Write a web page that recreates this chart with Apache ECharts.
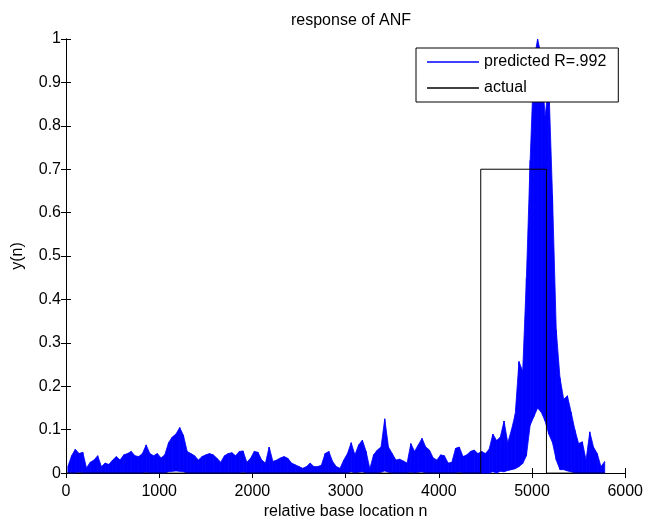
<!DOCTYPE html>
<html>
<head>
<meta charset="utf-8">
<script src="https://cdn.jsdelivr.net/npm/echarts@6/dist/echarts.min.js"></script>
<style>
html,body{margin:0;padding:0;background:#fff;}
#chart{width:646px;height:525px;}
</style>
</head>
<body>
<div id="chart"></div>
<script>
// ---- data ----
const titleText = 'response of ANF';
const xName = 'relative base location n';
const yName = 'y(n)';
const legendNames = ['predicted R=.992', 'actual'];
const xTicks = [0, 1000, 2000, 3000, 4000, 5000, 6000];
const yTicks = [0, 0.1, 0.2, 0.3, 0.4, 0.5, 0.6, 0.7, 0.8, 0.9, 1];

// predicted response: sampled every 40 positions from n = 20; lower and upper envelope of the dense trace
const sampleStart = 20;
const sampleStep = 40;
const predLo = [
  0, 0, 0, .002, 0, 0, 0, 0, 0, 0,
  0, 0, 0, 0, 0, 0, 0, 0, 0, 0,
  0, .002, 0, 0, 0, 0, 0, .003, .004, .005,
  .004, .003, 0, 0, 0, 0, 0, 0, 0, 0,
  0, 0, 0, 0, 0, 0, 0, .002, 0, 0,
  0, 0, 0, 0, 0, 0, 0, 0, 0, 0,
  0, 0, 0, 0, 0, 0, 0, 0, 0, 0,
  0, 0, 0, 0, 0, 0, .003, 0, .002, .003,
  0, 0, 0, 0, .002, .005, .002, 0, 0, 0,
  0, 0, .002, 0, .002, .003, 0, 0, 0, 0,
  0, 0, 0, 0, 0, .002, 0, 0, 0, 0,
  0, 0, 0, 0, .003, 0, .004, .003, .006, .008,
  .01, .015, .022, .04, .11, .13, .15, .14, .12, .09,
  .07, .03, .008, .008, .005, .003, 0, 0, 0, 0,
  0, 0, 0, 0, 0
];
const predHi = [
  .015, .04, .055, .045, .048, .012, .025, .03, .04, .015,
  .023, .02, .03, .038, .03, .042, .045, .05, .04, .038,
  .045, .065, .045, .04, .045, .035, .042, .07, .083, .09,
  .105, .087, .05, .045, .04, .03, .038, .042, .045, .042,
  .034, .025, .04, .045, .047, .04, .05, .051, .025, .034,
  .05, .048, .03, .023, .06, .027, .03, .035, .038, .034,
  .023, .019, .015, .011, .015, .023, .015, .015, .018, .045,
  .05, .027, .015, .011, .03, .045, .07, .042, .065, .076,
  .05, .01, .042, .053, .06, .125, .06, .045, .03, .032,
  .028, .023, .068, .05, .065, .08, .06, .053, .035, .03,
  .042, .04, .023, .025, .057, .06, .038, .042, .05, .053,
  .045, .05, .045, .055, .09, .075, .083, .12, .07, .1,
  .136, .257, .235, .45, .72, .95, 1.05, .96, .82, .9,
  .64, .33, .22, .17, .178, .14, .1, .068, .072, .03,
  .095, .06, .045, .015, .027
];

// actual response (step profile)
const actualX = [0, 4450, 4450, 5155, 5155, 5780];
const actualY = [0, 0, 0.7, 0.7, 0, 0];

// ---- build series data: one band segment between consecutive samples ----
const bandData = [];
for (let i = 0; i < predHi.length - 1; i++) {
  const n0 = sampleStart + i * sampleStep;
  const n1 = n0 + sampleStep;
  bandData.push([n0, predLo[i], predHi[i], n1, predLo[i + 1], predHi[i + 1]]);
}
const actualData = actualX.map((x, i) => [x, actualY[i]]);

const FONT = 'Liberation Sans, Arial, Helvetica, sans-serif';
const BLUE = '#0000ff';
const tickStyle = { show: true, inside: true, length: 5, lineStyle: { color: '#000', width: 1 } };
const lineStyleAx = { show: true, lineStyle: { color: '#000', width: 1 } };

function renderBand(params, api) {
  const a = api.coord([api.value(0), api.value(1)]);
  const b = api.coord([api.value(3), api.value(4)]);
  const c = api.coord([api.value(3), api.value(5)]);
  const d = api.coord([api.value(0), api.value(2)]);
  const cs = params.coordSys;
  const pts = echarts.graphic.clipPointsByRect([a, b, c, d], { x: cs.x, y: cs.y, width: cs.width, height: cs.height });
  return {
    type: 'polygon',
    shape: { points: pts },
    style: { fill: BLUE, stroke: BLUE, lineWidth: 0.8 }
  };
}

const chart = echarts.init(document.getElementById('chart'), null, { renderer: 'canvas' });
chart.setOption({
  backgroundColor: '#fff',
  animation: false,
  title: {
    text: titleText,
    left: 346, top: 8, textAlign: 'center',
    textStyle: { fontFamily: FONT, fontSize: 16, fontWeight: 'normal', color: '#000' }
  },
  legend: {
    data: legendNames,
    orient: 'vertical',
    left: 416, top: 48,
    padding: [6, 12, 6, 11],
    itemGap: 10,
    itemWidth: 52, itemHeight: 1.5,
    icon: 'rect',
    backgroundColor: '#fff',
    borderColor: '#000', borderWidth: 1, borderRadius: 0,
    textStyle: { fontFamily: FONT, fontSize: 16, color: '#000' }
  },
  grid: { left: 66, right: 19, top: 39, bottom: 45, containLabel: false },
  xAxis: [{
    type: 'value', min: xTicks[0], max: xTicks[xTicks.length - 1], interval: 1000,
    position: 'bottom',
    name: xName, nameLocation: 'middle', nameGap: 23,
    nameTextStyle: { fontFamily: FONT, fontSize: 16, color: '#000' },
    axisLine: lineStyleAx, axisTick: tickStyle,
    axisLabel: { fontFamily: FONT, fontSize: 16, color: '#000', margin: 10, formatter: v => String(v) },
    splitLine: { show: false }
  }, {
    type: 'value', min: xTicks[0], max: xTicks[xTicks.length - 1], interval: 1000,
    position: 'top',
    axisLine: lineStyleAx, axisTick: tickStyle,
    axisLabel: { show: false }, splitLine: { show: false }
  }],
  yAxis: [{
    type: 'value', min: yTicks[0], max: yTicks[yTicks.length - 1], interval: 0.1,
    position: 'left',
    name: yName, nameLocation: 'middle', nameGap: 40, nameRotate: 90,
    nameTextStyle: { fontFamily: FONT, fontSize: 16, color: '#000' },
    axisLine: lineStyleAx, axisTick: tickStyle,
    axisLabel: { fontFamily: FONT, fontSize: 16, color: '#000', margin: 5 },
    splitLine: { show: false }
  }, {
    type: 'value', min: yTicks[0], max: yTicks[yTicks.length - 1], interval: 0.1,
    position: 'right',
    axisLine: lineStyleAx, axisTick: tickStyle,
    axisLabel: { show: false }, splitLine: { show: false }
  }],
  series: [{
    name: legendNames[0],
    type: 'custom',
    renderItem: renderBand,
    data: bandData,
    encode: { x: [0, 3], y: [1, 2, 4, 5] },
    itemStyle: { color: BLUE },
    z: 2
  }, {
    name: legendNames[1],
    type: 'line',
    data: actualData,
    showSymbol: false, symbol: 'none',
    clip: true,
    lineStyle: { color: '#000', width: 1 },
    itemStyle: { color: '#000' },
    z: 3
  }]
});
</script>
</body>
</html>
